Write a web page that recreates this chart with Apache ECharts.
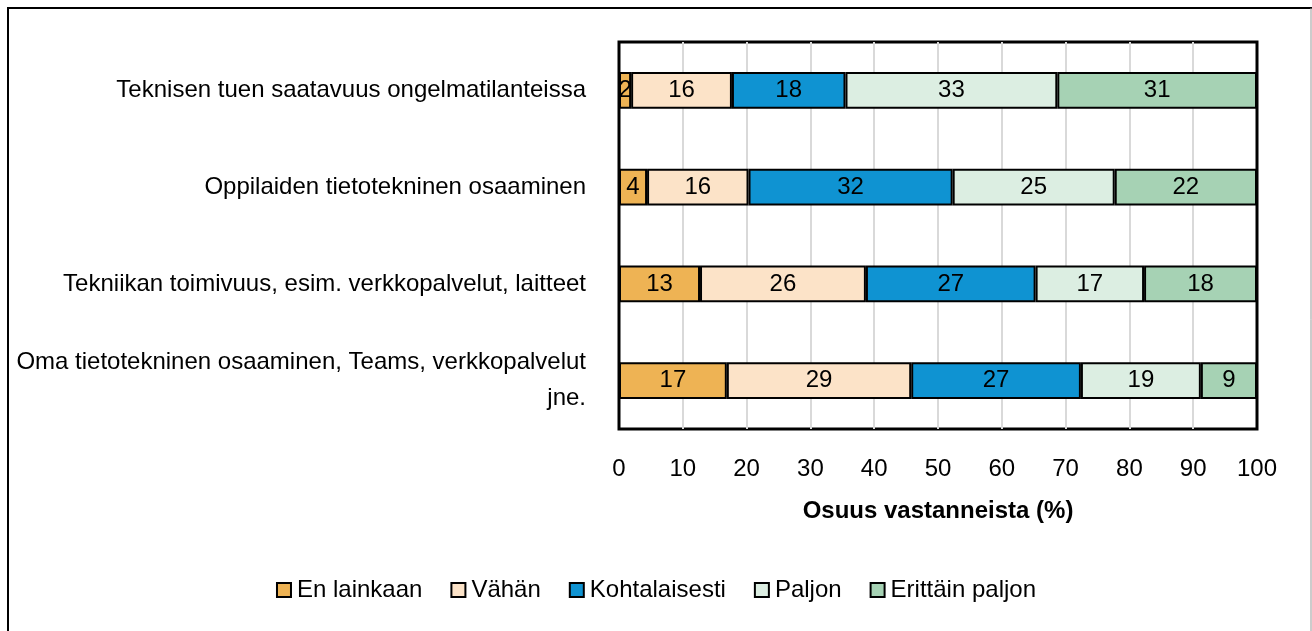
<!DOCTYPE html>
<html>
<head>
<meta charset="utf-8">
<script src="https://cdn.jsdelivr.net/npm/echarts@6/dist/echarts.min.js"></script>
<style>
  html, body { margin: 0; padding: 0; background: #fff; }
  #chart { width: 1312px; height: 631px; }
</style>
</head>
<body>
<div id="chart"></div>
<script>
const categories = [
  'Teknisen tuen saatavuus ongelmatilanteissa',
  'Oppilaiden tietotekninen osaaminen',
  'Tekniikan toimivuus, esim. verkkopalvelut, laitteet',
  'Oma tietotekninen osaaminen, Teams, verkkopalvelut\njne.'
];
const seriesNames = ['En lainkaan', 'Vähän', 'Kohtalaisesti', 'Paljon', 'Erittäin paljon'];
const enLainkaan = [1.9, 4.4, 12.7, 16.9];
const vahan = [15.8, 15.9, 26.0, 28.9];
const kohtalaisesti = [17.8, 32.0, 26.6, 26.6];
const paljon = [33.2, 25.4, 17.0, 18.8];
const erittainPaljon = [31.3, 22.3, 17.7, 8.8];
const xTicks = [0, 10, 20, 30, 40, 50, 60, 70, 80, 90, 100];

const colors = ['#EEB354', '#FCE3C8', '#0F93D2', '#DCEEE2', '#A6D2B4'];
const values = [enLainkaan, vahan, kohtalaisesti, paljon, erittainPaljon];
const font = '"Liberation Sans", Arial, sans-serif';
const fs = 24;

let myChart = echarts.init(document.getElementById('chart'));

let series = seriesNames.map((name, i) => ({
  name: name,
  type: 'bar',
  stack: 'total',
  barWidth: '38%',
  data: values[i],
  itemStyle: { color: colors[i], borderColor: '#000', borderWidth: 2 },
  label: {
    show: true,
    position: 'inside',
    color: '#000',
    fontSize: fs,
    fontFamily: font,
    formatter: p => Math.round(p.value)
  }
}));

let option = {
  animation: false,
  graphic: [
    { type: 'rect', shape: { x: 8, y: 8, width: 1330, height: 650 },
      style: { fill: 'none', stroke: '#000', lineWidth: 2 } },
    { type: 'line', shape: { x1: 1311, y1: 8, x2: 1311, y2: 631 },
      style: { stroke: '#999', lineWidth: 1 } }
  ],
  grid: { left: 619, top: 42, width: 638, height: 387, outerBoundsMode: 'none', containLabel: false,
    show: true, borderColor: '#000', borderWidth: 3, backgroundColor: 'transparent' },
  legend: {
    data: seriesNames,
    bottom: 24,
    left: 'center',
    itemWidth: 14,
    itemHeight: 14,
    itemGap: 28,
    icon: 'rect',
    itemStyle: { borderColor: '#000', borderWidth: 2 },
    textStyle: { fontSize: fs, fontFamily: font, color: '#000', padding: [0, 0, 0, 1] }
  },
  xAxis: {
    type: 'value',
    min: 0,
    max: 100,
    interval: 10,
    name: 'Osuus vastanneista (%)',
    nameLocation: 'middle',
    nameGap: 70,
    nameTextStyle: { fontSize: fs, fontWeight: 'bold', fontFamily: font, color: '#000' },
    axisLine: { show: false },
    axisTick: { show: false },
    axisLabel: { fontSize: fs, fontFamily: font, color: '#000', margin: 28,
      formatter: v => xTicks.includes(v) ? String(v) : '' },
    splitLine: { show: true, showMinLine: false, showMaxLine: false, lineStyle: { color: '#D9D9D9', width: 2 } }
  },
  yAxis: {
    type: 'category',
    inverse: true,
    data: categories,
    axisLine: { show: false },
    axisTick: { show: false },
    axisLabel: { fontSize: fs, fontFamily: font, color: '#000', margin: 33, align: 'right', lineHeight: 36 }
  },
  series: series
};
myChart.setOption(option);
</script>
</body>
</html>
